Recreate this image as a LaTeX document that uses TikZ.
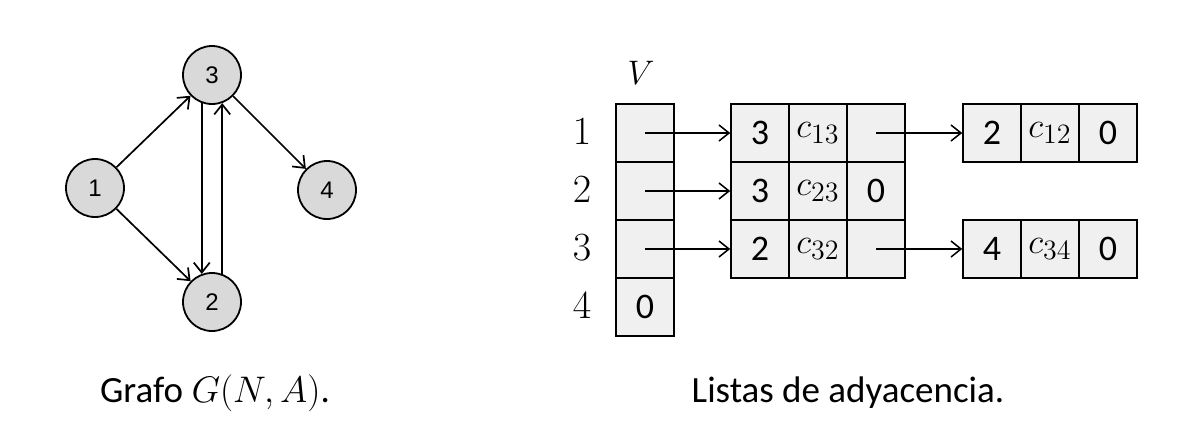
\RequirePackage{fix-cm}
\documentclass[tikz,border=0pt]{standalone}
\usepackage{fontspec}
\setmainfont{Carlito}
\newfontfamily\arialf{Liberation Sans}
\usetikzlibrary{arrows.meta}
\definecolor{nodegray}{HTML}{D9D9D9}
\definecolor{cellgray}{HTML}{F0F0F0}
\newcommand\cwt[1]{$c_{\hbox{\fontsize{14}{14}\selectfont$#1$}}$}
\begin{document}
\begin{tikzpicture}[x=0.5pt,y=-0.5pt,
  gnode/.style={circle, draw, fill=nodegray, minimum size=29pt, inner sep=0pt, line width=0.9pt, font=\arialf\fontsize{12}{14}\selectfont},
  cell/.style={rectangle, draw, fill=cellgray, minimum width=29pt, minimum height=29pt, inner sep=0pt, line width=0.8pt, font=\fontsize{18}{20}\selectfont},
  mcell/.style={cell, font=\fontsize{17.5}{20}\selectfont},
  arr/.style={-{Straight Barb[length=5pt,width=8pt]}, line width=0.75pt},
  garr/.style={arr, line width=0.85pt},
  lab/.style={font=\fontsize{20}{22}\selectfont, inner sep=0pt},
  captext/.style={font=\fontsize{18.5}{21}\selectfont, inner sep=0pt}]
\useasboundingbox (0,0) rectangle (1191,435);
% graph
\node[gnode] (n3) at (212,75) {3};
\node[gnode] (n1) at (95,188) {1};
\node[gnode] (n4) at (327,190) {4};
\node[gnode] (n2) at (212,302) {2};
\draw[garr] (n1) -- (n3);
\draw[garr] (n1) -- (n2);
\draw[garr] (n3.-110) -- (n2.110);
\draw[garr] (n2.70) -- (n3.-70);
\draw[garr] (n3) -- (n4);
% V column
\node[lab, font=\fontsize{17}{20}\selectfont] (vl) at (641,73) {$V$};
\node[lab] (l1) at (582,132) {$1$};
\node[lab] (l2) at (582,190) {$2$};
\node[lab] (l3) at (582,248) {$3$};
\node[lab] (l4) at (582,306) {$4$};
\node[cell] (v1) at (645,133) {};
\node[cell] (v2) at (645,191) {};
\node[cell] (v3) at (645,249) {};
\node[cell] (v4) at (645,307) {0};
% middle table
\node[cell] (a1) at (760,133) {3};
\node[mcell] (b1) at (818,133) {\cwt{13}};
\node[cell] (c1) at (876,133) {};
\node[cell] (a2) at (760,191) {3};
\node[mcell] (b2) at (818,191) {\cwt{23}};
\node[cell] (c2) at (876,191) {0};
\node[cell] (a3) at (760,249) {2};
\node[mcell] (b3) at (818,249) {\cwt{32}};
\node[cell] (c3) at (876,249) {};
% right boxes
\node[cell] (d1) at (992,133) {2};
\node[mcell] (e1) at (1050,133) {\cwt{12}};
\node[cell] (f1) at (1108,133) {0};
\node[cell] (d3) at (992,249) {4};
\node[mcell] (e3) at (1050,249) {\cwt{34}};
\node[cell] (f3) at (1108,249) {0};
% arrows
\draw[arr] (v1.center) -- (a1.west);
\draw[arr] (v2.center) -- (a2.west);
\draw[arr] (v3.center) -- (a3.west);
\draw[arr] (c1.center) -- (d1.west);
\draw[arr] (c3.center) -- (d3.west);
% captions
\node[captext] (cap1) at (215,393) {Grafo $G(N,A)$.};
\node[captext] (cap2) at (848,393) {Listas de adyacencia.};
\end{tikzpicture}
\end{document}
